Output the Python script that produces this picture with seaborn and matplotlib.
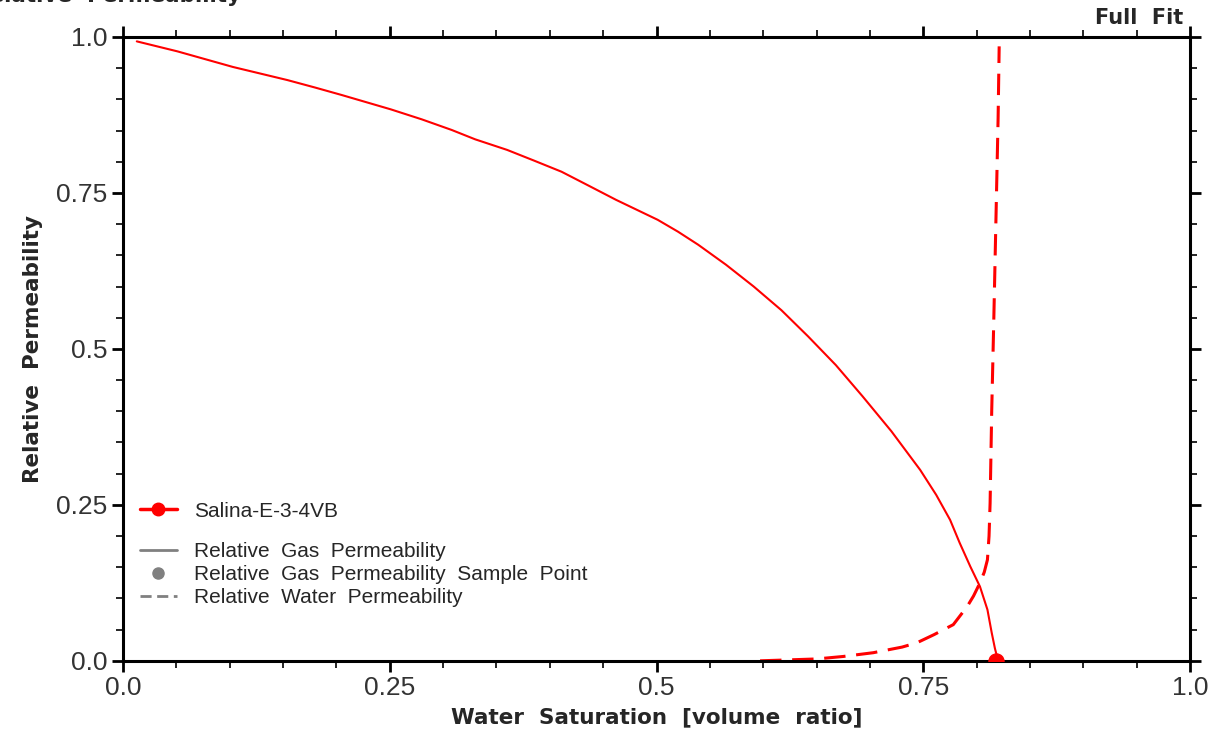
"""
Gas-water relative permeability curves (Full Fit) for Salina-E-3-4VB.
"""

import matplotlib.pyplot as plt
import pandas as pd
import seaborn as sns
from matplotlib.lines import Line2D
from matplotlib.ticker import MultipleLocator, FixedLocator, FixedFormatter

# Data
gas_sw = [0.013, 0.051, 0.103, 0.154, 0.180, 0.205, 0.251, 0.280, 0.308, 0.330,
          0.360, 0.385, 0.411, 0.436, 0.462, 0.501, 0.520, 0.539, 0.565, 0.591,
          0.617, 0.642, 0.668, 0.693, 0.720, 0.747, 0.762, 0.775, 0.784, 0.794,
          0.803, 0.810, 0.814, 0.817, 0.820]
gas_kr = [0.993, 0.977, 0.952, 0.931, 0.919, 0.907, 0.884, 0.868, 0.851, 0.836,
          0.819, 0.802, 0.784, 0.762, 0.739, 0.707, 0.688, 0.667, 0.635, 0.600,
          0.562, 0.520, 0.474, 0.424, 0.368, 0.306, 0.266, 0.226, 0.189, 0.151,
          0.119, 0.082, 0.045, 0.020, 0.0]

water_sw = [0.597, 0.650, 0.675, 0.703, 0.730, 0.744, 0.760, 0.778, 0.791, 0.797,
            0.803, 0.807, 0.810, 0.8115, 0.8125, 0.814, 0.816, 0.818, 0.820, 0.821]
water_kr = [0.0, 0.003, 0.007, 0.013, 0.022, 0.029, 0.042, 0.058, 0.087, 0.104,
            0.125, 0.142, 0.162, 0.200, 0.253, 0.400, 0.550, 0.710, 0.870, 0.985]

sample_sw = [0.818]
sample_kr = [0.0]

well = 'Salina-E-3-4VB'
tick_vals = [0.0, 0.25, 0.5, 0.75, 1.0]
tick_text = ['0.0', '0.25', '0.5', '0.75', '1.0']

sns.set_style('ticks')
plt.rcParams['font.family'] = ['Liberation Sans', 'DejaVu Sans']

gas_df = pd.DataFrame({'sw': gas_sw, 'kr': gas_kr})
water_df = pd.DataFrame({'sw': water_sw, 'kr': water_kr})
sample_df = pd.DataFrame({'sw': sample_sw, 'kr': sample_kr})

fig = plt.figure(figsize=(12.17, 7.40), dpi=100)
ax = fig.add_axes([0.101, 0.107, 0.877, 0.843])

red = '#ff0000'
sns.lineplot(data=gas_df, x='sw', y='kr', sort=False, color=red, linewidth=1.5, ax=ax)
sns.lineplot(data=water_df, x='sw', y='kr', sort=False, color=red, linewidth=2.2,
             linestyle=(0, (7, 3.5)), ax=ax)
sns.scatterplot(data=sample_df, x='sw', y='kr', color=red, s=120, edgecolor=red,
                ax=ax, zorder=5)

ax.set_xlim(0, 1)
ax.set_ylim(0, 1)
for axis in (ax.xaxis, ax.yaxis):
    axis.set_major_locator(FixedLocator(tick_vals))
    axis.set_major_formatter(FixedFormatter(tick_text))
    axis.set_minor_locator(MultipleLocator(0.05))

ax.tick_params(which='both', direction='out', top=True, right=True,
               color='black', labelsize=19, labelcolor='#333333')
ax.tick_params(which='major', length=8, width=2, pad=3)
ax.tick_params(which='minor', length=5, width=1.2)
for sp in ax.spines.values():
    sp.set_linewidth(2.2)
    sp.set_color('black')

bold_font = ['DejaVu Sans']
ax.set_xlabel('Water  Saturation  [volume  ratio]', fontsize=15.5, fontweight='bold',
              family=bold_font, labelpad=5)
ax.set_ylabel('Relative  Permeability', fontsize=15.5, fontweight='bold',
              family=bold_font, labelpad=10)

fig.text(0.972, 0.976, 'Full  Fit', ha='right', va='center', fontsize=15,
         fontweight='bold', family=bold_font)
# chart title, partly cut off at the top edge as in the source image
fig.text(-0.022, 1.005, 'Relative  Permeability', ha='left', va='center', fontsize=15.5,
         fontweight='bold', family=bold_font)

# Legend: well entry, then line-style key in gray
well_handle = [Line2D([], [], color=red, linewidth=2.5, marker='o', markersize=9)]
leg1 = ax.legend(well_handle, [well], loc='center left', bbox_to_anchor=(0.0, 0.24),
                 frameon=False, fontsize=15, handlelength=1.8, handletextpad=0.8,
                 borderpad=0, borderaxespad=0.8)
ax.add_artist(leg1)

gray = '#808080'
key_handles = [
    Line2D([], [], color=gray, linewidth=2),
    Line2D([], [], color=gray, linestyle='none', marker='o', markersize=8),
    Line2D([], [], color=gray, linewidth=2, linestyle=(0, (4, 2))),
]
key_labels = ['Relative  Gas  Permeability',
              'Relative  Gas  Permeability  Sample  Point',
              'Relative  Water  Permeability']
ax.legend(key_handles, key_labels, loc='center left', bbox_to_anchor=(0.0, 0.138),
          frameon=False, fontsize=15, handlelength=1.8, handletextpad=0.8,
          labelspacing=0.18, borderpad=0, borderaxespad=0.8)

fig.savefig('out.png', dpi=100)
